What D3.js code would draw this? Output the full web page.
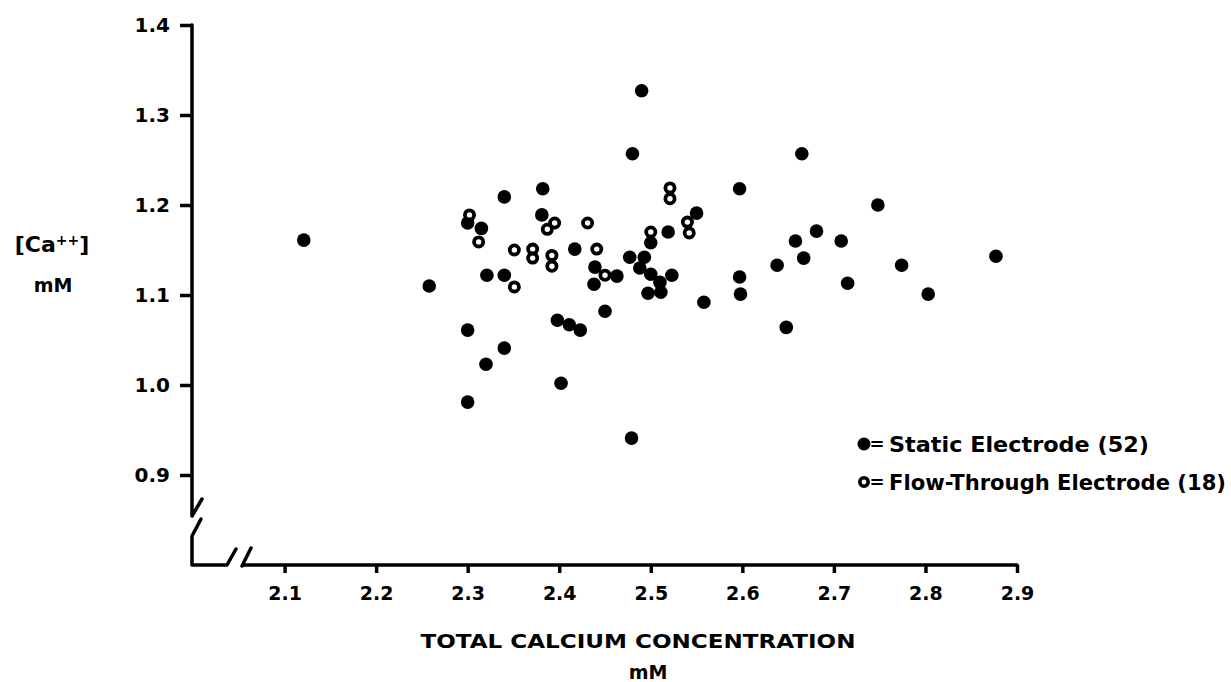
<!DOCTYPE html>
<html>
<head>
<meta charset="utf-8">
<script src="https://cdn.jsdelivr.net/npm/d3@7"></script>
<style>
  html, body { margin: 0; padding: 0; background: #fff; }
  svg text { font-family: "DejaVu Sans", "Liberation Sans", sans-serif; fill: #000; }
</style>
</head>
<body>
<svg id="chart" width="1231" height="682"></svg>
<script>
// ---- Data ----
const staticTotal = [2.121, 2.258, 2.300, 2.315, 2.340, 2.382, 2.381, 2.417, 2.321, 2.340,
  2.300, 2.398, 2.411, 2.423, 2.340, 2.320, 2.300, 2.402, 2.479, 2.450,
  2.439, 2.463, 2.438, 2.477, 2.493, 2.488, 2.500, 2.519, 2.500, 2.510,
  2.523, 2.497, 2.511, 2.558, 2.550, 2.490, 2.480, 2.597, 2.665, 2.748,
  2.681, 2.658, 2.708, 2.667, 2.638, 2.774, 2.877, 2.597, 2.598, 2.715,
  2.803, 2.648];
const staticIon = [1.161, 1.110, 1.180, 1.174, 1.209, 1.218, 1.189, 1.151, 1.122, 1.122,
  1.061, 1.072, 1.067, 1.061, 1.041, 1.023, 0.981, 1.002, 0.941, 1.082,
  1.131, 1.121, 1.112, 1.142, 1.142, 1.130, 1.158, 1.170, 1.123, 1.114,
  1.122, 1.102, 1.103, 1.092, 1.191, 1.327, 1.257, 1.218, 1.257, 1.200,
  1.171, 1.160, 1.160, 1.141, 1.133, 1.133, 1.143, 1.120, 1.101, 1.113,
  1.101, 1.064];
const flowTotal = [2.302, 2.312, 2.351, 2.371, 2.371, 2.392, 2.392, 2.395, 2.387, 2.351,
  2.431, 2.441, 2.450, 2.500, 2.521, 2.521, 2.540, 2.542];
const flowIon = [1.189, 1.159, 1.150, 1.151, 1.141, 1.144, 1.132, 1.180, 1.173, 1.109,
  1.180, 1.151, 1.122, 1.170, 1.219, 1.207, 1.181, 1.169];

const xTicks = [2.1, 2.2, 2.3, 2.4, 2.5, 2.6, 2.7, 2.8, 2.9];
const yTicks = [0.9, 1.0, 1.1, 1.2, 1.3, 1.4];
const xTitle = "TOTAL CALCIUM CONCENTRATION";
const xUnit = "mM";
const yTitle = "[Ca++]";
const yUnit = "mM";
const legendLabels = ["Static  Electrode (52)", "Flow-Through Electrode (18)"];

// ---- Layout ----
const svg = d3.select("#chart");
const x = d3.scaleLinear().domain([2.0, 2.9]).range([193, 1017]);
const y = d3.scaleLinear().domain([0.8, 1.4]).range([565, 25]);
const AX = x.range()[0] - 1, AY = y.range()[0];
const axisW = 3.5;

// Y axis ticks
const yAxis = svg.append("g").attr("transform", `translate(${AX},0)`)
  .call(d3.axisLeft(y).tickValues(yTicks).tickSize(12).tickPadding(10)
    .tickFormat(d3.format(".1f")));
yAxis.select(".domain").remove();
yAxis.selectAll(".tick line").attr("stroke", "#000").attr("stroke-width", axisW);
yAxis.selectAll(".tick text").style("font-size", "20px").style("font-weight", "bold")
  .attr("fill", "#000");

// X axis ticks
const xAxis = svg.append("g").attr("transform", `translate(0,${AY})`)
  .call(d3.axisBottom(x).tickValues(xTicks).tickSize(8).tickPadding(14)
    .tickFormat(d3.format(".1f")));
xAxis.select(".domain").remove();
xAxis.selectAll(".tick line").attr("stroke", "#000").attr("stroke-width", axisW);
xAxis.selectAll(".tick text").style("font-size", "19px").style("font-weight", "bold")
  .attr("fill", "#000");

// Axis lines with break marks
const line = d3.line();
const axStyle = p => p.attr("fill", "none").attr("stroke", "#000")
  .attr("stroke-width", axisW).attr("stroke-linejoin", "round").attr("stroke-linecap", "round");
svg.append("path").call(axStyle)
  .attr("d", line([[AX, y(1.4)], [AX, AY - 49], [AX + 10, AY - 66]]));
svg.append("path").call(axStyle)
  .attr("d", line([[AX + 9, AY - 46], [AX, AY - 29], [AX, AY], [AX + 35, AY], [AX + 44, AY - 16]]));
svg.append("path").call(axStyle)
  .attr("d", line([[AX + 59, AY - 17], [AX + 50, AY + 1], [AX + 52, AY], [x(2.9), AY]]));

// Points
svg.append("g").selectAll("circle").data(staticTotal.map((d, i) => [d, staticIon[i]]))
  .join("circle")
  .attr("cx", d => x(d[0])).attr("cy", d => y(d[1])).attr("r", 6.8).attr("fill", "#000");
svg.append("g").selectAll("circle").data(flowTotal.map((d, i) => [d, flowIon[i]]))
  .join("circle")
  .attr("cx", d => x(d[0])).attr("cy", d => y(d[1])).attr("r", 4.6)
  .attr("fill", "#fff").attr("stroke", "#000").attr("stroke-width", 3.8);

// Axis titles
svg.append("text").attr("x", 638).attr("y", 648).attr("text-anchor", "middle")
  .attr("textLength", 435).attr("lengthAdjust", "spacingAndGlyphs")
  .style("font-size", "20px").style("font-weight", "600").text(xTitle);
svg.append("text").attr("x", 648).attr("y", 679).attr("text-anchor", "middle")
  .style("font-size", "19px").style("font-weight", "bold").text(xUnit);

const yt = svg.append("text").attr("x", 52).attr("y", 252).attr("text-anchor", "middle")
  .style("font-size", "22px").style("font-weight", "bold");
yt.append("tspan").text("[Ca");
yt.append("tspan").attr("dy", -7).style("font-size", "14px").text("++");
yt.append("tspan").attr("dy", 7).text("]");
svg.append("text").attr("x", 53).attr("y", 292).attr("text-anchor", "middle")
  .style("font-size", "19px").style("font-weight", "bold").text(yUnit);

// Legend
const legY = [444, 482];
const lg = svg.append("g");
lg.append("circle").attr("cx", 864).attr("cy", legY[0]).attr("r", 6.5).attr("fill", "#000");
lg.append("circle").attr("cx", 864).attr("cy", legY[1]).attr("r", 4.2)
  .attr("fill", "#fff").attr("stroke", "#000").attr("stroke-width", 3.5);
legY.forEach((ly, i) => {
  lg.append("text").attr("x", 877).attr("y", ly + 6).attr("text-anchor", "middle")
    .style("font-size", "18px").style("font-weight", "bold").text("=");
  lg.append("text").attr("x", 889).attr("y", ly + 8)
    .attr("textLength", i === 0 ? 260 : 337).attr("lengthAdjust", "spacingAndGlyphs")
    .style("font-size", "21px").style("font-weight", "bold").text(legendLabels[i]);
});
</script>
</body>
</html>
